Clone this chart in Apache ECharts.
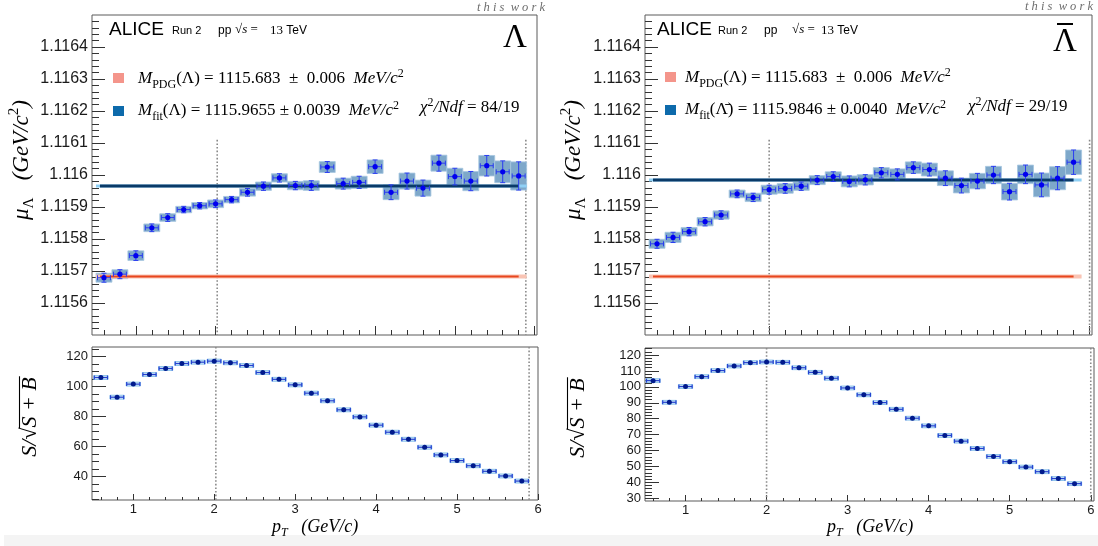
<!DOCTYPE html>
<html><head><meta charset="utf-8">
<script src="https://cdn.jsdelivr.net/npm/echarts@6/dist/echarts.min.js"></script>
<style>html,body{margin:0;padding:0;background:#fff}#c{width:1098px;height:546px}</style>
</head><body><div id="c"></div>
<script>
// ---------------- DATA ----------------
const ptBins = [0.6,0.8,1.0,1.2,1.4,1.6,1.8,2.0,2.2,2.4,2.6,2.8,3.0,3.2,3.4,3.6,3.8,4.0,4.2,4.4,4.6,4.8,5.0,5.2,5.4,5.6,5.8];
const binHalfWidth = 0.1;
// mu (GeV/c^2) for Lambda
const muLambda = [1.115679,1.115690,1.115748,1.115835,1.115867,1.115892,1.115904,1.115910,1.115923,1.115946,1.115965,1.115991,1.115967,1.115967,1.116025,1.115973,1.115977,1.116026,1.115946,1.115981,1.115959,1.116037,1.115995,1.115981,1.116029,1.116010,1.115997];
const muLambdaErr = [0.000014,0.000014,0.000015,0.000012,0.000012,0.000010,0.000010,0.000012,0.000010,0.000012,0.000013,0.000013,0.000013,0.000015,0.000017,0.000017,0.000019,0.000021,0.000023,0.000025,0.000025,0.000025,0.000026,0.000030,0.000032,0.000034,0.000044];
// mu for anti-Lambda
const muAntiLambda = [1.115785,1.115805,1.115823,1.115854,1.115875,1.115941,1.115930,1.115954,1.115958,1.115965,1.115984,1.115995,1.115980,1.115985,1.116007,1.116002,1.116023,1.116017,1.115990,1.115967,1.115981,1.116000,1.115948,1.116002,1.115969,1.115990,1.116040];
const muAntiLambdaErr = [0.000014,0.000016,0.000013,0.000013,0.000013,0.000012,0.000013,0.000014,0.000015,0.000013,0.000014,0.000015,0.000017,0.000016,0.000016,0.000017,0.000018,0.000020,0.000023,0.000023,0.000024,0.000027,0.000026,0.000029,0.000037,0.000036,0.000038];
// significance S/sqrt(S+B)
const sigLambda = [106.0,92.9,101.6,108.0,112.0,115.3,116.2,116.9,115.8,114.0,109.3,104.8,101.1,95.6,90.5,84.5,79.8,74.3,69.6,64.9,59.6,54.5,50.7,47.3,43.6,40.5,37.1];
const sigLambdaErr = [1.3,1.3,1.3,1.3,1.3,1.3,1.3,1.3,1.3,1.3,1.3,1.3,1.3,1.3,1.3,1.3,1.3,1.3,1.3,1.3,1.3,1.3,1.3,1.3,1.3,1.3,1.3];
const sigAntiLambda = [103.9,90.3,100.2,106.4,110.2,113.1,115.2,115.6,115.4,112.0,109.1,105.4,99.3,95.0,90.1,85.9,80.3,75.5,69.5,65.9,61.3,56.3,53.0,49.6,46.7,42.4,39.2];
const sigAntiLambdaErr = [1.2,1.2,1.2,1.2,1.2,1.2,1.2,1.2,1.2,1.2,1.2,1.2,1.2,1.2,1.2,1.2,1.2,1.2,1.2,1.2,1.2,1.2,1.2,1.2,1.2,1.2,1.2];
const massPDG = 1.115683;
const massFitLambda = 1.1159655;
const massFitAntiLambda = 1.1159846;
const fitRange = [0.55, 5.8];
const bandRange = [0.5, 5.9];
const cutsLambda = [2.02, 5.89];
const cutsAntiLambda = [2.0, 6.0];
const cutTopValue = 1.11611;
// tick labels
const ptTicks = [1,2,3,4,5,6];
const muTicks = [1.1156,1.1157,1.1158,1.1159,1.116,1.1161,1.1162,1.1163,1.1164];
const sigTicksLambda = [40,60,80,100,120];
const sigTicksAntiLambda = [30,40,50,60,70,80,90,100,110,120];
// axis ranges
const muRange = [1.1155, 1.1165];
const ptRangeTop = [0.45, 6.03];
const ptRangeBottomL = [0.49, 6.0];
const ptRangeBottomR = [0.5, 6.04];
const sigRangeL = [24.5, 126.3];
const sigRangeR = [28.3, 124.4];

// minor tick positions
const ptMinor = []; for (let k = 3; k <= 30; k++) if (k % 5) ptMinor.push(+(k*0.2).toFixed(1));
const muMinor = []; for (let k = 55775; k <= 55825; k++) if (k % 5) muMinor.push(+(k*0.00002).toFixed(5));
const sigMinorL = []; for (let v = 25; v <= 125; v += 5) if (v % 20) sigMinorL.push(v);
const sigMinorR = []; for (let v = 30; v <= 124; v += 2) if (v % 10) sigMinorR.push(v);

// ---------------- STYLE HELPERS ----------------
const SANS = 'Liberation Sans', SERIF = 'Liberation Serif';
const tickColor = '#333';

function xAxes(g, range, showLabels, majLen, minLen) {
  const base = {gridIndex:g, type:'value', min:range[0], max:range[1], position:'bottom',
    splitLine:{show:false}, axisLine:{show:false}};
  return [
    Object.assign({}, base, {axisTick:{show:true, inside:true, length:majLen, customValues:ptTicks, lineStyle:{color:tickColor,width:1}},
      axisLabel:{show:showLabels, customValues:ptTicks, margin:3, fontSize:13, color:'#1a1a1a', fontFamily:SANS, formatter:v=>String(v)}}),
    Object.assign({}, base, {axisTick:{show:true, inside:true, length:minLen, customValues:ptMinor, lineStyle:{color:tickColor,width:1}},
      axisLabel:{show:false}})
  ];
}
function yAxes(g, range, maj, min, fs, fmt, majLen, minLen) {
  const base = {gridIndex:g, type:'value', min:range[0], max:range[1], position:'left',
    splitLine:{show:false}, axisLine:{show:false}};
  return [
    Object.assign({}, base, {axisTick:{show:true, inside:true, length:majLen, customValues:maj, lineStyle:{color:tickColor,width:1}},
      axisLabel:{show:true, customValues:maj, margin:4, fontSize:fs, color:'#1a1a1a', fontFamily:SANS, formatter:fmt}}),
    Object.assign({}, base, {axisTick:{show:true, inside:true, length:minLen, customValues:min, lineStyle:{color:tickColor,width:1}},
      axisLabel:{show:false}})
  ];
}

function boxTop(params, api) {
  const x = api.value(0), y = api.value(1), e = api.value(2);
  const p1 = api.coord([x - binHalfWidth, y + e]);
  const p2 = api.coord([x + binHalfWidth, y - e]);
  return {type:'rect', shape:{x:p1[0], y:p1[1], width:p2[0]-p1[0], height:p2[1]-p1[1]},
    style:{fill:'#7ea8ca', stroke:'#a6c6df', lineWidth:0.8}};
}
function crossTop(params, api) {
  const x = api.value(0), y = api.value(1), e = api.value(2);
  const c = api.coord([x, y]), l = api.coord([x - binHalfWidth, y]), r = api.coord([x + binHalfWidth, y]);
  const t = api.coord([x, y + e]), b = api.coord([x, y - e]);
  const lx = l[0] + 1.5, rx = r[0] - 1.5, cap = 2.5;
  const st = {stroke:'#2a3cf0', lineWidth:1};
  return {type:'group', children:[
    {type:'line', shape:{x1:lx, y1:c[1], x2:rx, y2:c[1]}, style:st},
    {type:'line', shape:{x1:c[0], y1:t[1], x2:c[0], y2:b[1]}, style:st},
    {type:'line', shape:{x1:lx, y1:c[1]-cap, x2:lx, y2:c[1]+cap}, style:st},
    {type:'line', shape:{x1:rx, y1:c[1]-cap, x2:rx, y2:c[1]+cap}, style:st},
    {type:'line', shape:{x1:c[0]-cap, y1:t[1], x2:c[0]+cap, y2:t[1]}, style:st},
    {type:'line', shape:{x1:c[0]-cap, y1:b[1], x2:c[0]+cap, y2:b[1]}, style:st},
    {type:'circle', shape:{cx:c[0], cy:c[1], r:2.6}, style:{fill:'#0000ee'}}
  ]};
}
function boxSig(params, api) {
  const x = api.value(0), y = api.value(1), e = api.value(2);
  const p1 = api.coord([x - binHalfWidth, y + e]);
  const p2 = api.coord([x + binHalfWidth, y - e]);
  return {type:'rect', shape:{x:p1[0]+1, y:p1[1], width:p2[0]-p1[0]-2, height:p2[1]-p1[1]},
    style:{fill:'#cfe6f7', stroke:'#8ec4ec', lineWidth:1}};
}
function crossSig(params, api) {
  const x = api.value(0), y = api.value(1);
  const c = api.coord([x, y]), l = api.coord([x - binHalfWidth, y]), r = api.coord([x + binHalfWidth, y]);
  const lx = l[0] + 1.5, rx = r[0] - 1.5, cap = 2;
  const st = {stroke:'#2442d0', lineWidth:1.2};
  return {type:'group', children:[
    {type:'line', shape:{x1:lx, y1:c[1], x2:rx, y2:c[1]}, style:st},
    {type:'line', shape:{x1:lx, y1:c[1]-cap, x2:lx, y2:c[1]+cap}, style:st},
    {type:'line', shape:{x1:rx, y1:c[1]-cap, x2:rx, y2:c[1]+cap}, style:st},
    {type:'circle', shape:{cx:c[0], cy:c[1], r:2.5}, style:{fill:'#001a8c'}}
  ]};
}
function hLine(ax, pts, color, width, z) {
  return {type:'line', xAxisIndex:ax, yAxisIndex:ax, data:pts, symbol:'none', showSymbol:false,
    lineStyle:{color, width}, z, silent:true, animation:false};
}
function vCut(ax, x, yTop, yBot) {
  return {type:'line', xAxisIndex:ax, yAxisIndex:ax, data:[[x, yTop],[x, yBot]], symbol:'none', showSymbol:false,
    lineStyle:{color:'#8a8a8a', width:1.6, type:[1.6,2]}, z:1, silent:true, animation:false};
}

// ---------------- SERIES ----------------
const series = [];
function topPanel(g, mu, err, fitVal, cuts) {
  const ax = 2*g;
  const data = ptBins.map((x,i)=>[x, mu[i], err[i]]);
  series.push({type:'custom', xAxisIndex:ax, yAxisIndex:ax, data, encode:{x:0,y:1}, renderItem:boxTop, z:2, silent:true, animation:false});
  cuts.forEach(c => series.push(vCut(ax, c, cutTopValue, muRange[0])));
  series.push(hLine(ax, [[bandRange[0], massPDG],[bandRange[1], massPDG]], '#f9c4b4', 4, 3));
  series.push(hLine(ax, [[fitRange[0], massPDG],[fitRange[1], massPDG]], '#e8461e', 2, 4));
  series.push(hLine(ax, [[bandRange[0], fitVal],[bandRange[1], fitVal]], '#8fd0f5', 3, 3));
  series.push(hLine(ax, [[fitRange[0], fitVal],[fitRange[1], fitVal]], '#0a3a68', 3, 4));
  series.push({type:'custom', xAxisIndex:ax, yAxisIndex:ax, data, encode:{x:0,y:1}, renderItem:crossTop, z:5, silent:true, animation:false});
}
function bottomPanel(g, sig, err, cuts, yr) {
  const ax = 2*g;
  const data = ptBins.map((x,i)=>[x, sig[i], err[i]]);
  cuts.forEach(c => series.push(vCut(ax, c, yr[1], yr[0])));
  series.push({type:'custom', xAxisIndex:ax, yAxisIndex:ax, data, encode:{x:0,y:1}, renderItem:boxSig, z:2, silent:true, animation:false});
  series.push({type:'custom', xAxisIndex:ax, yAxisIndex:ax, data, encode:{x:0,y:1}, renderItem:crossSig, z:5, silent:true, animation:false});
}
topPanel(0, muLambda, muLambdaErr, massFitLambda, cutsLambda);
topPanel(1, muAntiLambda, muAntiLambdaErr, massFitAntiLambda, cutsAntiLambda);
bottomPanel(2, sigLambda, sigLambdaErr, cutsLambda, sigRangeL);
bottomPanel(3, sigAntiLambda, sigAntiLambdaErr, cutsAntiLambda, sigRangeR);

// ---------------- TEXT ----------------
const mctx = document.createElement('canvas').getContext('2d');
function tw(font, s) { mctx.font = font; return mctx.measureText(s).width; }

const legRich = {
  mi:{fontFamily:SERIF, fontStyle:'italic', fontSize:17, lineHeight:23, color:'#000'},
  n:{fontFamily:SERIF, fontSize:17, lineHeight:23, color:'#000'},
  sub:{fontFamily:SERIF, fontSize:12, lineHeight:14, verticalAlign:'bottom', color:'#000'},
  sup:{fontFamily:SERIF, fontSize:12, lineHeight:14, verticalAlign:'top', color:'#000'}
};
function rtext(x, y, text, rich, extra) {
  return Object.assign({type:'text', x, y, silent:true, z:100,
    style:{text, rich, fill:'#000', align:'left', verticalAlign:'middle', textAlign:'left', textVerticalAlign:'middle'}}, extra||{});
}
function ptext(x, y, text, font, fill, align) {
  return {type:'text', x, y, silent:true, z:100,
    style:{text, font, fill:fill||'#000', align:align||'left', verticalAlign:'middle', textAlign:align||'left', textVerticalAlign:'middle'}};
}
function header(x0, xRun, xpp, xs, x13) {
  return [
    ptext(x0, 30, 'ALICE', '19px "Liberation Sans"'),
    ptext(xRun, 31, 'Run 2', '11px "Liberation Sans"'),
    ptext(xpp, 31, 'pp', '12px "Liberation Sans"'),
    rtext(xs, 30, '{n|√}{i|s}{n| = }', {
      n:{fontFamily:SERIF, fontSize:13, lineHeight:16}, i:{fontFamily:SERIF, fontStyle:'italic', fontSize:13, lineHeight:16}}),
    rtext(x13, 31, '{n|13 }{s|TeV}', {
      n:{fontFamily:SERIF, fontSize:13, lineHeight:16}, s:{fontFamily:SANS, fontSize:12, lineHeight:16}})
  ];
}
function sqrtTitle(cx, cy) {
  const F = 22;
  const fI = 'italic ' + F + 'px "Liberation Serif"', fN = F + 'px "Liberation Serif"';
  const w1 = tw(fI, 'S/'), w2 = tw(fN, '√'), w3 = tw(fI, 'S + B');
  const W = w1 + w2 + w3, x0 = -W/2;
  return {type:'group', x:cx, y:cy, rotation:Math.PI/2, silent:true, children:[
    ptext(x0, 0, 'S/', fI),
    ptext(x0 + w1, 0, '√', fN),
    ptext(x0 + w1 + w2, 0, 'S + B', fI),
    {type:'line', shape:{x1:x0 + w1 + w2 - 0.5, y1:-10.5, x2:x0 + W + 1, y2:-10.5}, style:{stroke:'#000', lineWidth:1.1}}
  ]};
}
const muTitleRich = {
  i:{fontFamily:SERIF, fontStyle:'italic', fontSize:23, lineHeight:30},
  sub:{fontFamily:SERIF, fontSize:15, lineHeight:16, verticalAlign:'bottom'},
  sup:{fontFamily:SERIF, fontSize:15, lineHeight:16, verticalAlign:'top'}
};
const muTitle = '{i|μ}{sub|Λ}{i|   (GeV/c}{sup|2}{i|)}';
const ptTitleRich = {
  i:{fontFamily:SERIF, fontStyle:'italic', fontSize:18, lineHeight:24},
  sub:{fontFamily:SERIF, fontStyle:'italic', fontSize:12, lineHeight:13, verticalAlign:'bottom'}
};
const ptTitle = '{i|p}{sub|T}{i|   (GeV/c)}';

const graphic = [
  {type:'rect', shape:{x:4, y:535, width:1094, height:11}, style:{fill:'#f4f4f4'}, silent:true, z:-10},
  // this work
  ptext(545, 8, 't h i s  w o r k', 'italic 12.5px "Liberation Serif"', '#6e6e6e', 'right'),
  ptext(1093, 7, 't h i s  w o r k', 'italic 12.5px "Liberation Serif"', '#6e6e6e', 'right'),
  // headers
  ...header(109, 172, 218, 235, 270),
  ...header(657, 718, 764, 792, 821),
  // big symbols
  ptext(515, 38, 'Λ', '33px "Liberation Serif"', '#000', 'center'),
  ptext(1065, 42, 'Λ', '33px "Liberation Serif"', '#000', 'center'),
  {type:'line', shape:{x1:1057, y1:24, x2:1073, y2:24}, style:{stroke:'#000', lineWidth:2}, silent:true},
  // legends
  {type:'rect', shape:{x:113, y:73, width:11, height:10}, style:{fill:'#f4958b'}, silent:true},
  {type:'rect', shape:{x:113, y:106, width:11, height:10}, style:{fill:'#0d6aab'}, silent:true},
  {type:'rect', shape:{x:665, y:72, width:11, height:10}, style:{fill:'#f4958b'}, silent:true},
  {type:'rect', shape:{x:665, y:105, width:11, height:10}, style:{fill:'#0d6aab'}, silent:true},
  rtext(138, 79, '{mi|M}{sub|PDG}{n|(Λ) = 1115.683  ±  0.006  }{mi|MeV/c}{sup|2}', legRich),
  rtext(138, 111, '{mi|M}{sub|fit}{n|(Λ) = 1115.9655 ± 0.0039  }{mi|MeV/c}{sup|2}', legRich),
  rtext(420, 108, '{mi|χ}{sup|2}{mi|/Ndf}{n| = 84/19}', legRich),
  rtext(685, 78, '{mi|M}{sub|PDG}{n|(Λ) = 1115.683  ±  0.006  }{mi|MeV/c}{sup|2}', legRich),
  rtext(685, 110, '{mi|M}{sub|fit}{n|(Λ\u0304) = 1115.9846 ± 0.0040  }{mi|MeV/c}{sup|2}', legRich),
  rtext(968, 107, '{mi|χ}{sup|2}{mi|/Ndf}{n| = 29/19}', legRich),
  // axis titles
  rtext(22, 160, muTitle, muTitleRich, {rotation:Math.PI/2, style:{text:muTitle, rich:muTitleRich, align:'center', verticalAlign:'middle', textAlign:'center', textVerticalAlign:'middle'}}),
  rtext(574, 160, muTitle, muTitleRich, {rotation:Math.PI/2, style:{text:muTitle, rich:muTitleRich, align:'center', verticalAlign:'middle', textAlign:'center', textVerticalAlign:'middle'}}),
  sqrtTitle(30, 417),
  sqrtTitle(578, 418),
  rtext(272, 527, ptTitle, ptTitleRich),
  rtext(827, 527, ptTitle, ptTitleRich)
];

const muFmt = v => String(parseFloat(v.toFixed(4)));
const option = {
  animation:false,
  backgroundColor:'#ffffff',
  grid:[
    {left:92, top:15, width:445, height:320, show:true, borderColor:'#5a5a5a', borderWidth:1, backgroundColor:'transparent'},
    {left:645, top:15, width:447, height:320, show:true, borderColor:'#5a5a5a', borderWidth:1, backgroundColor:'transparent'},
    {left:92, top:347, width:446, height:153, show:true, borderColor:'#5a5a5a', borderWidth:1, backgroundColor:'transparent'},
    {left:645, top:348, width:449, height:153, show:true, borderColor:'#5a5a5a', borderWidth:1, backgroundColor:'transparent'}
  ],
  xAxis:[
    ...xAxes(0, ptRangeTop, false, 9, 5),
    ...xAxes(1, ptRangeTop, false, 9, 5),
    ...xAxes(2, ptRangeBottomL, true, 6, 3),
    ...xAxes(3, ptRangeBottomR, true, 6, 3)
  ],
  yAxis:[
    ...yAxes(0, muRange, muTicks, muMinor, 16, muFmt, 13, 7),
    ...yAxes(1, muRange, muTicks, muMinor, 16, muFmt, 13, 7),
    ...yAxes(2, sigRangeL, sigTicksLambda, sigMinorL, 13, v=>String(v), 14, 7),
    ...yAxes(3, sigRangeR, sigTicksAntiLambda, sigMinorR, 13, v=>String(v), 14, 7)
  ],
  series,
  graphic
};
const chart = echarts.init(document.getElementById('c'), null, {renderer:'canvas', width:1098, height:546});
chart.setOption(option);
</script>
</body></html>
